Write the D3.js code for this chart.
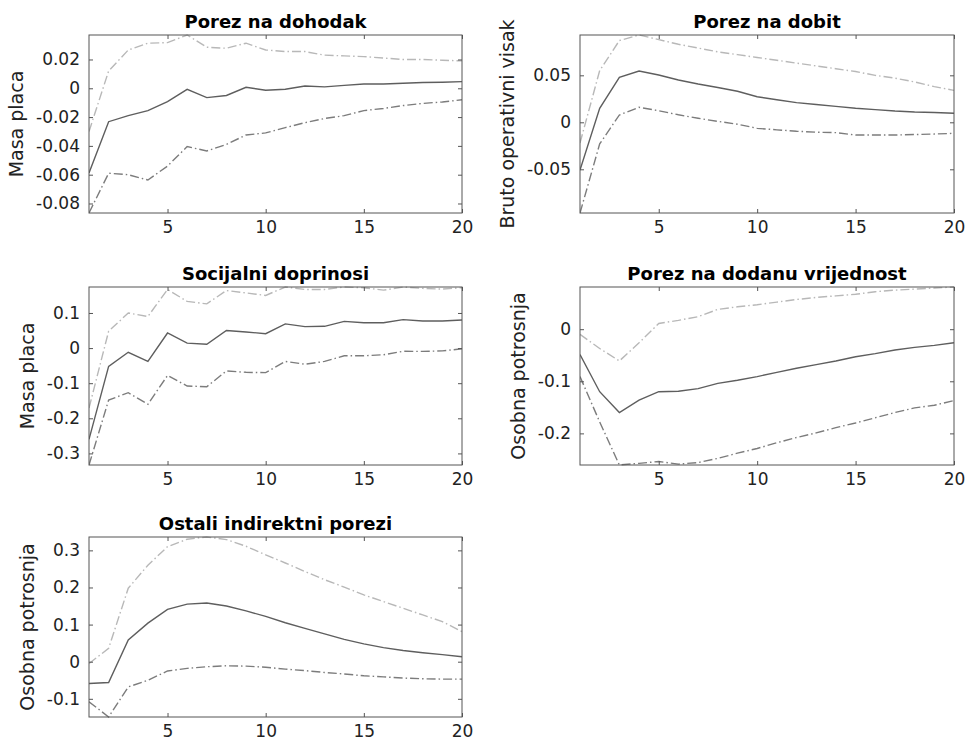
<!DOCTYPE html>
<html><head><meta charset="utf-8">
<script src="https://cdn.jsdelivr.net/npm/d3@7"></script>
<style>html,body{margin:0;padding:0;background:#fff;}svg{display:block;}</style>
</head><body>
<svg id="chart" width="966" height="742"></svg>
<script>
// ---- data ----
const horizons = [1,2,3,4,5,6,7,8,9,10,11,12,13,14,15,16,17,18,19,20];
const xTicks = [5,10,15,20];

const titles = ["Porez na dohodak","Porez na dobit","Socijalni doprinosi","Porez na dodanu vrijednost","Ostali indirektni porezi"];
const yLabels = ["Masa placa","Bruto operativni visak","Masa placa","Osobna potrosnja","Osobna potrosnja"];
const yTicks = [
  [-0.08,-0.06,-0.04,-0.02,0,0.02],
  [-0.05,0,0.05],
  [-0.3,-0.2,-0.1,0,0.1],
  [-0.2,-0.1,0],
  [-0.1,0,0.1,0.2,0.3]
];

// Porez na dohodak
const dohodakMid   = [-0.0588,-0.0232,-0.019,-0.0155,-0.0093,-0.0007,-0.0065,-0.005,0.0007,-0.0014,-0.0007,0.0016,0.001,0.002,0.003,0.003,0.0035,0.004,0.0042,0.0046];
const dohodakUpper = [-0.030,0.012,0.0266,0.0313,0.0317,0.037,0.0285,0.0278,0.0313,0.0266,0.0255,0.0255,0.023,0.0225,0.022,0.021,0.020,0.020,0.0195,0.019];
const dohodakLower = [-0.0866,-0.059,-0.060,-0.0637,-0.054,-0.0405,-0.0435,-0.039,-0.0324,-0.031,-0.0273,-0.0239,-0.021,-0.019,-0.0155,-0.014,-0.012,-0.0105,-0.0095,-0.008];

// Porez na dobit
const dobitMid   = [-0.0507,0.0149,0.0479,0.0546,0.0503,0.045,0.0407,0.037,0.033,0.0272,0.024,0.021,0.019,0.017,0.0149,0.0135,0.012,0.011,0.0105,0.0096];
const dobitUpper = [-0.022,0.055,0.087,0.0929,0.088,0.083,0.079,0.075,0.072,0.069,0.066,0.063,0.060,0.057,0.054,0.050,0.047,0.043,0.038,0.034];
const dobitLower = [-0.0965,-0.023,0.0078,0.016,0.0123,0.008,0.0043,0.001,-0.002,-0.0064,-0.008,-0.0095,-0.0105,-0.011,-0.0135,-0.0135,-0.0135,-0.013,-0.0125,-0.0117];

// Socijalni doprinosi
const socMid   = [-0.26,-0.052,-0.012,-0.038,0.043,0.014,0.011,0.050,0.046,0.041,0.069,0.061,0.062,0.076,0.072,0.072,0.081,0.077,0.077,0.080];
const socUpper = [-0.171,0.048,0.10,0.09,0.167,0.133,0.126,0.164,0.157,0.150,0.174,0.167,0.167,0.174,0.172,0.165,0.174,0.170,0.168,0.172];
const socLower = [-0.333,-0.148,-0.127,-0.16,-0.078,-0.108,-0.11,-0.065,-0.069,-0.070,-0.038,-0.046,-0.038,-0.022,-0.022,-0.019,-0.009,-0.0095,-0.008,-0.002];

// Porez na dodanu vrijednost
const pdvMid   = [-0.0486,-0.120,-0.160,-0.136,-0.120,-0.119,-0.114,-0.104,-0.098,-0.091,-0.083,-0.075,-0.068,-0.061,-0.053,-0.047,-0.040,-0.035,-0.031,-0.026];
const pdvUpper = [-0.010,-0.037,-0.061,-0.026,0.011,0.017,0.024,0.038,0.043,0.047,0.052,0.057,0.061,0.064,0.067,0.072,0.075,0.077,0.079,0.081];
const pdvLower = [-0.091,-0.178,-0.2607,-0.2575,-0.254,-0.259,-0.256,-0.248,-0.238,-0.229,-0.218,-0.208,-0.199,-0.189,-0.180,-0.170,-0.160,-0.151,-0.146,-0.137];

// Ostali indirektni porezi
const ostaliMid   = [-0.0586,-0.056,0.0586,0.104,0.141,0.155,0.158,0.150,0.137,0.122,0.105,0.090,0.075,0.060,0.048,0.038,0.030,0.024,0.019,0.0135];
const ostaliUpper = [-0.005,0.036,0.198,0.26,0.31,0.33,0.336,0.329,0.311,0.288,0.266,0.243,0.221,0.201,0.180,0.162,0.144,0.126,0.108,0.081];
const ostaliLower = [-0.108,-0.149,-0.068,-0.050,-0.025,-0.018,-0.0135,-0.011,-0.012,-0.015,-0.020,-0.024,-0.029,-0.033,-0.038,-0.041,-0.044,-0.046,-0.047,-0.047];

const panelSeries = [
  [dohodakMid, dohodakUpper, dohodakLower],
  [dobitMid, dobitUpper, dobitLower],
  [socMid, socUpper, socLower],
  [pdvMid, pdvUpper, pdvLower],
  [ostaliMid, ostaliUpper, ostaliLower]
];

// ---- layout ----
const boxes = [
  {x0:89, x1:462, y0:35, y1:213},
  {x0:580, x1:954, y0:35, y1:213},
  {x0:89, x1:462, y0:287, y1:465},
  {x0:580, x1:954, y0:287, y1:465},
  {x0:89, x1:462, y0:537, y1:717}
];
const FONT = "'DejaVu Sans', 'Liberation Sans', Arial, sans-serif";
const lineStyles = [
  {color:"#5e5e5e", dash:null},
  {color:"#b8b8b8", dash:"9,3,1.5,3"},
  {color:"#7c7c7c", dash:"9,3,1.5,3"}
];
const fmt = v => v === 0 ? "0" : String(+v.toFixed(3));

const svg = d3.select("#chart");

boxes.forEach((b, i) => {
  const series = panelSeries[i];
  const all = series.flat();
  const x = d3.scaleLinear().domain(d3.extent(horizons)).range([b.x0, b.x1]);
  const y = d3.scaleLinear().domain(d3.extent(all)).range([b.y1, b.y0]);
  const g = svg.append("g");

  const clipId = "clip" + i;
  svg.append("clipPath").attr("id", clipId).append("rect")
    .attr("x", b.x0).attr("y", b.y0 - 1).attr("width", b.x1 - b.x0).attr("height", b.y1 - b.y0 + 2);

  const line = d3.line().x((d, j) => x(horizons[j])).y(d => y(d));
  [1, 2, 0].forEach(k => {
    g.append("path").datum(series[k])
      .attr("clip-path", `url(#${clipId})`)
      .attr("d", line)
      .attr("fill", "none")
      .attr("stroke", lineStyles[k].color)
      .attr("stroke-width", 1.4)
      .attr("stroke-dasharray", lineStyles[k].dash);
  });

  const tickLen = 4;
  const axStyle = sel => {
    sel.select(".domain").remove();
    sel.selectAll(".tick line").attr("stroke", "#555").attr("stroke-width", 1);
    sel.selectAll(".tick text").attr("fill", "#222").style("font-family", FONT).style("font-size", "17px");
  };
  const bottom = g.append("g").attr("transform", `translate(0,${b.y1})`)
    .call(d3.axisBottom(x).tickValues(xTicks).tickSizeInner(-tickLen).tickSizeOuter(0).tickFormat(d3.format("d")));
  axStyle(bottom);
  bottom.selectAll(".tick text").attr("y", 3).attr("dy", "1em");
  const top = g.append("g").attr("transform", `translate(0,${b.y0})`)
    .call(d3.axisTop(x).tickValues(xTicks).tickSizeInner(-tickLen).tickSizeOuter(0).tickFormat(""));
  axStyle(top);
  const left = g.append("g").attr("transform", `translate(${b.x0},0)`)
    .call(d3.axisLeft(y).tickValues(yTicks[i]).tickSizeInner(-tickLen).tickSizeOuter(0).tickPadding(9).tickFormat(fmt));
  axStyle(left);
  const right = g.append("g").attr("transform", `translate(${b.x1},0)`)
    .call(d3.axisRight(y).tickValues(yTicks[i]).tickSizeInner(-tickLen).tickSizeOuter(0).tickFormat(""));
  axStyle(right);

  g.append("rect").attr("x", b.x0).attr("y", b.y0)
    .attr("width", b.x1 - b.x0).attr("height", b.y1 - b.y0)
    .attr("fill", "none").attr("stroke", "#555").attr("stroke-width", 1);

  g.append("text").attr("x", (b.x0 + b.x1) / 2).attr("y", b.y0 - 7)
    .attr("text-anchor", "middle").style("font-family", FONT)
    .style("font-size", "18px").style("font-weight", "bold").attr("fill", "#000")
    .text(titles[i]);

  let maxW = 0;
  left.selectAll(".tick text").each(function(){ maxW = Math.max(maxW, this.getComputedTextLength()); });
  const lx = b.x0 - 9 - maxW - 13;
  const ly = (b.y0 + b.y1) / 2;
  g.append("text").attr("transform", `translate(${lx},${ly}) rotate(-90)`)
    .attr("text-anchor", "middle").style("font-family", FONT)
    .style("font-size", "19px").attr("fill", "#222")
    .text(yLabels[i]);
});
</script>
</body></html>
